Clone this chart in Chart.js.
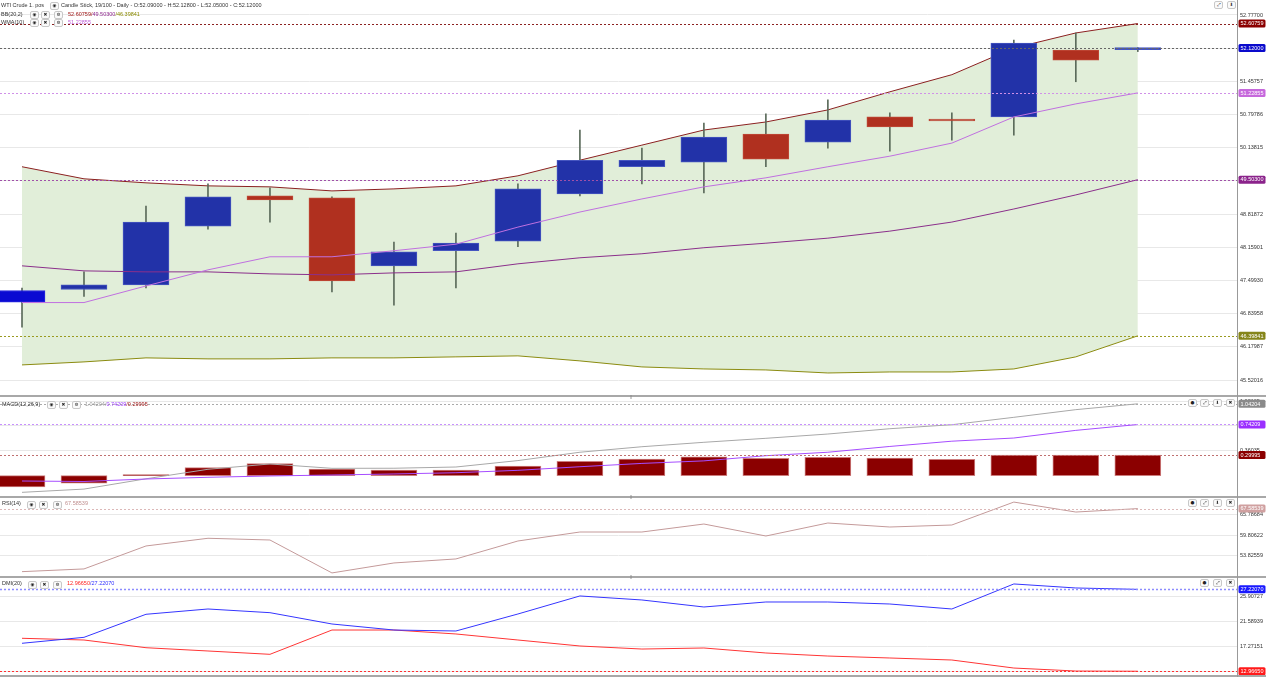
<!DOCTYPE html>
<html><head><meta charset="utf-8">
<script src="https://cdn.jsdelivr.net/npm/chart.js@4.4.0/dist/chart.umd.min.js"></script>
<style>
html,body{margin:0;padding:0;background:#fff;width:1266px;height:688px;overflow:hidden;font-family:"Liberation Sans",Arial,sans-serif;}
canvas{position:absolute;left:0;}
.t{position:absolute;font-size:5.5px;line-height:7px;white-space:nowrap;color:#333;}
.ic{position:absolute;width:7px;height:6px;border:0.6px solid #c8c8c8;border-radius:2px;background:#fafafa;font-size:4.5px;line-height:6px;text-align:center;color:#222;font-family:"DejaVu Sans",sans-serif;}
.sep{position:absolute;left:0;width:1266px;height:2px;background:#a8a8a8;}
.vax{position:absolute;left:1237px;top:0;width:1px;height:677px;background:#999;}
.hd{position:absolute;font-size:5px;color:#888;left:630px;}
</style></head><body>
<canvas id="cMain" width="1266" height="395" style="top:0px"></canvas>
<canvas id="cMacd" width="1266" height="98" style="top:398px"></canvas>
<canvas id="cRsi" width="1266" height="78" style="top:498px"></canvas>
<canvas id="cDmi" width="1266" height="97" style="top:578px"></canvas>
<div class="sep" style="top:395px"></div>
<div class="sep" style="top:496px"></div>
<div class="sep" style="top:576px"></div>
<div class="sep" style="top:675px"></div>
<div class="vax"></div>
<div class="hd" style="top:394px">‖</div>
<div class="hd" style="top:494px">‖</div>
<div class="hd" style="top:574px">‖</div>

<!-- main header -->
<div class="t" style="left:1px;top:1.5px">WTI Crude 1. pos</div>
<div class="ic" style="left:50px;top:2px">◉</div>
<div class="t" style="left:61px;top:1.5px">Candle Stick, 19/100 - Daily - O:52.09000 - H:52.12800 - L:52.05000 - C:52.12000</div>
<div class="t" style="left:1px;top:10.5px">BB(20,2)</div>
<div class="ic" style="left:30px;top:11px">◉</div>
<div class="ic" style="left:41px;top:11px">✖</div>
<div class="ic" style="left:54px;top:11px">⚙</div>
<div class="t" style="left:68px;top:10.5px"><span style="color:#a01818">52.60759/</span><span style="color:#8e2a8e">49.50300</span><span style="color:#8a8a00">/46.39841</span></div>
<div class="t" style="left:1px;top:18.5px">WMA(10)</div>
<div class="ic" style="left:30px;top:19px">◉</div>
<div class="ic" style="left:41px;top:19px">✖</div>
<div class="ic" style="left:54px;top:19px">⚙</div>
<div class="t" style="left:68px;top:18.5px;color:#c060d8">51.22855</div>
<div class="ic" style="left:1214px;top:1px">⤢</div>
<div class="ic" style="left:1227px;top:1px">⬇</div>

<!-- MACD header -->
<div class="t" style="left:2px;top:400.5px">MACD(12,26,9)</div>
<div class="ic" style="left:47px;top:401px">◉</div>
<div class="ic" style="left:59px;top:401px">✖</div>
<div class="ic" style="left:72px;top:401px">⚙</div>
<div class="t" style="left:85px;top:400.5px"><span style="color:#999">1.04204/</span><span style="color:#a040ff">0.74209</span><span style="color:#a01818">/0.29995</span></div>
<div class="ic" style="left:1188px;top:399px">●</div>
<div class="ic" style="left:1200px;top:399px">⤢</div>
<div class="ic" style="left:1213px;top:399px">⬇</div>
<div class="ic" style="left:1226px;top:399px">✖</div>

<!-- RSI header -->
<div class="t" style="left:2px;top:500px">RSI(14)</div>
<div class="ic" style="left:27px;top:500.5px">◉</div>
<div class="ic" style="left:39px;top:500.5px">✖</div>
<div class="ic" style="left:53px;top:500.5px">⚙</div>
<div class="t" style="left:65px;top:500px;color:#c09090">67.58539</div>
<div class="ic" style="left:1188px;top:499px">●</div>
<div class="ic" style="left:1200px;top:499px">⤢</div>
<div class="ic" style="left:1213px;top:499px">⬇</div>
<div class="ic" style="left:1226px;top:499px">✖</div>

<!-- DMI header -->
<div class="t" style="left:2px;top:580px">DMI(20)</div>
<div class="ic" style="left:28px;top:580.5px">◉</div>
<div class="ic" style="left:40px;top:580.5px">✖</div>
<div class="ic" style="left:53px;top:580.5px">⚙</div>
<div class="t" style="left:67px;top:580px"><span style="color:#ff2020">12.96650</span><span style="color:#3030ff">/27.22070</span></div>
<div class="ic" style="left:1200px;top:579px">●</div>
<div class="ic" style="left:1213px;top:579px">⤢</div>
<div class="ic" style="left:1226px;top:579px">✖</div>

<script>
// ---------- data ----------
const open  = [47.07, 47.32, 47.41, 48.58, 49.18, 49.14, 47.79, 48.09, 48.28, 49.22, 49.76, 49.85, 50.41, 50.25, 50.75, 50.69, 50.75, 52.08, 52.09];
const high  = [47.35, 47.67, 48.98, 49.42, 49.34, 49.16, 48.26, 48.44, 49.42, 50.49, 50.13, 50.63, 50.81, 51.09, 50.83, 50.83, 52.28, 52.42, 52.128];
const low   = [46.57, 47.18, 47.35, 48.52, 48.66, 47.27, 47.01, 47.35, 48.17, 49.18, 49.42, 49.24, 49.76, 50.13, 50.07, 50.29, 50.39, 51.45, 52.05];
const close = [47.30, 47.41, 48.66, 49.16, 49.10, 47.49, 48.07, 48.24, 49.32, 49.89, 49.89, 50.35, 49.91, 50.69, 50.55, 50.67, 52.22, 51.88, 52.12];

const bbUpper = [49.76, 49.52, 49.44, 49.38, 49.36, 49.28, 49.32, 49.38, 49.58, 49.89, 50.19, 50.49, 50.65, 50.89, 51.25, 51.59, 52.12, 52.42, 52.60759];
const bbMid   = [47.79, 47.69, 47.67, 47.67, 47.63, 47.61, 47.65, 47.67, 47.83, 47.95, 48.03, 48.15, 48.24, 48.34, 48.48, 48.66, 48.92, 49.20, 49.50300];
const bbLower = [45.82, 45.88, 45.96, 45.94, 45.94, 45.96, 45.96, 45.98, 46.00, 45.90, 45.78, 45.74, 45.72, 45.66, 45.68, 45.68, 45.74, 45.98, 46.39841];
const wma10   = [47.06, 47.06, 47.39, 47.71, 47.97, 47.97, 48.09, 48.22, 48.56, 48.86, 49.12, 49.36, 49.54, 49.76, 49.97, 50.23, 50.75, 51.01, 51.22855];

const macdLine   = [-0.241, -0.194, -0.045, 0.093, 0.170, 0.107, 0.108, 0.126, 0.219, 0.340, 0.420, 0.484, 0.542, 0.604, 0.681, 0.739, 0.846, 0.957, 1.04204];
const macdSignal = [-0.077, -0.084, -0.048, -0.023, -0.004, 0.010, 0.025, 0.043, 0.078, 0.130, 0.178, 0.215, 0.290, 0.340, 0.424, 0.500, 0.546, 0.657, 0.74209];
const macdHist   = [-0.164, -0.110, 0.003, 0.116, 0.174, 0.097, 0.083, 0.083, 0.141, 0.209, 0.242, 0.275, 0.252, 0.267, 0.257, 0.238, 0.300, 0.300, 0.29995];

const rsi14 = [49.01, 49.81, 56.57, 58.84, 58.33, 48.63, 51.57, 52.75, 58.04, 60.69, 60.69, 63.04, 59.51, 63.34, 62.16, 62.75, 69.51, 66.57, 67.58539];

const diPlus  = [17.83, 18.87, 22.88, 23.80, 23.16, 21.19, 20.14, 19.97, 22.93, 26.07, 25.37, 24.15, 25.02, 25.02, 24.67, 23.80, 28.16, 27.46, 27.22070];
const diMinus = [18.70, 18.40, 17.06, 16.49, 15.91, 20.14, 20.14, 19.45, 18.40, 17.36, 16.83, 17.01, 16.14, 15.61, 15.27, 14.92, 13.52, 13.00, 12.96650];

const priceTicks = [52.77700, 52.11729, 51.45757, 50.79786, 50.13815, 49.47844, 48.81872, 48.15901, 47.49930, 46.83958, 46.17987, 45.52016];
const macdTicks  = [1.08105, 0.72070, 0.36035];
const rsiTicks   = [65.78684, 59.80622, 53.82559];
const dmiTicks   = [25.90727, 21.58939, 17.27151, 12.95363];

// ---------- helpers ----------
const last = a => a[a.length - 1];
const pts = a => a.map((v, i) => ({x: i, y: v}));
const FONT = 'Liberation Sans';

function yAxis(min, max, ticks) {
  return {
    position: 'right', min, max, beginAtZero: false,
    afterBuildTicks: s => { s.ticks = ticks.filter(v => v >= min && v <= max).map(v => ({value: v})); },
    afterFit: s => { s.width = 29; s.paddingTop = 0; s.paddingBottom = 0; },
    grid: {color: '#e8e8e8', drawTicks: false, lineWidth: 1},
    border: {display: false},
    ticks: {padding: 3, color: '#333', autoSkip: false, font: {size: 5.5, family: FONT},
            callback: v => Number(v).toFixed(5)}
  };
}

function marks(items) {
  return {
    id: 'marks',
    afterDatasetsDraw(chart) {
      const {ctx, chartArea: a, scales: {y}} = chart;
      items.forEach(m => {
        const py = Math.round(y.getPixelForValue(m.value)) + 0.5;
        ctx.save();
        ctx.strokeStyle = m.line; ctx.lineWidth = m.lw || 1; ctx.setLineDash(m.dash || [2, 2]);
        ctx.beginPath(); ctx.moveTo(a.left, py); ctx.lineTo(a.right, py); ctx.stroke();
        ctx.restore();
      });
    },
    afterDraw(chart) {
      const {ctx, scales: {y}} = chart;
      items.forEach(m => {
        const py = y.getPixelForValue(m.value);
        ctx.save();
        ctx.fillStyle = m.box;
        ctx.beginPath();
        ctx.roundRect(1238.5, py - 4, 27, 8, 1.5);
        ctx.fill();
        ctx.fillStyle = m.text || '#fff';
        ctx.font = '5.5px "' + FONT + '"';
        ctx.textBaseline = 'middle';
        ctx.fillText(Number(m.value).toFixed(5), 1240.5, py + 0.3);
        ctx.restore();
      });
    }
  };
}

const xScale = () => ({type: 'linear', min: -0.355, max: 19.6, offset: false, bounds: 'ticks',
                       grid: {offset: false}, display: false});

function make(id, type, datasets, yopt, items) {
  return new Chart(document.getElementById(id), {
    type,
    data: {datasets},
    options: {
      responsive: false, animation: false, events: [],
      layout: {padding: 0},
      plugins: {legend: {display: false}, tooltip: {enabled: false}},
      scales: {x: xScale(), y: yopt}
    },
    plugins: [marks(items)]
  });
}

const line = (data, color, order, extra) => Object.assign({
  type: 'line', data: pts(data), borderColor: color, borderWidth: 1,
  pointRadius: 0, tension: 0, fill: false, order
}, extra || {});

// ---------- main price panel ----------
const UP = '#2232a8', DOWN = '#b0301f';
const bodyColors = close.map((c, i) => i === 0 ? '#0a0ad2' : (c >= open[i] ? UP : DOWN));
const bodyBorders = close.map((c, i) => i === 0 ? '#2a2ae0' : (c >= open[i] ? '#4656c0' : '#c04a38'));

make('cMain', 'bar', [
  line(bbUpper, '#8b2020', 10, {fill: '+1', backgroundColor: 'rgb(225,238,217)'}),
  line(bbLower, '#8b8b10', 9),
  {type: 'bar', data: high.map((h, i) => ({x: i, y: [low[i], h]})), backgroundColor: '#5b6b5b',
   barThickness: 1, grouped: false, order: 6},
  {type: 'bar', data: open.map((o, i) => ({x: i, y: [o, close[i]]})), backgroundColor: bodyColors,
   borderColor: bodyBorders, borderWidth: 1, borderSkipped: false,
   barThickness: 46, grouped: false, minBarLength: 2, order: 5},
  line(bbMid, '#8b2f8b', 2),
  line(wma10, '#c070e0', 1)
], yAxis(45.222, 53.0752, priceTicks), [
  {value: last(bbUpper), line: '#8b2020', box: '#8b0000'},
  {value: last(close), line: '#666', box: '#0a0acc'},
  {value: last(wma10), line: '#d090e8', box: '#c668dc'},
  {value: last(bbMid), line: '#a050a8', box: '#8b238b'},
  {value: last(bbLower), line: '#9a9a20', box: '#85851a'}
]);

// ---------- MACD panel ----------
make('cMacd', 'bar', [
  {type: 'bar', data: pts(macdHist), backgroundColor: '#8b0000', borderColor: 'rgba(200,110,110,0.9)',
   borderWidth: 1, borderSkipped: false, barThickness: 46, grouped: false, minBarLength: 1, order: 5},
  line(macdLine, '#a8a8a8', 2),
  line(macdSignal, '#a64dff', 1)
], yAxis(-0.2942, 1.1261, macdTicks), [
  {value: last(macdLine), line: '#aaa', box: '#8a8a8a'},
  {value: last(macdSignal), line: '#c890ff', box: '#9b30ff'},
  {value: last(macdHist), line: '#c07070', box: '#8b0000'}
]);

// ---------- RSI panel ----------
make('cRsi', 'line', [
  line(rsi14, '#c49a9a', 1)
], yAxis(47.726, 70.708, rsiTicks), [
  {value: last(rsi14), line: '#dcb8b8', box: '#d0a0a0'}
]);

// ---------- DMI panel ----------
make('cDmi', 'line', [
  line(diPlus, '#3535ff', 1),
  line(diMinus, '#ff3535', 2)
], yAxis(12.309, 29.197, dmiTicks), [
  {value: last(diPlus), line: '#8c8cff', box: '#1a1aff', lw: 1.5},
  {value: last(diMinus), line: '#ff3030', box: '#ff1a1a'}
]);
</script>
</body></html>
